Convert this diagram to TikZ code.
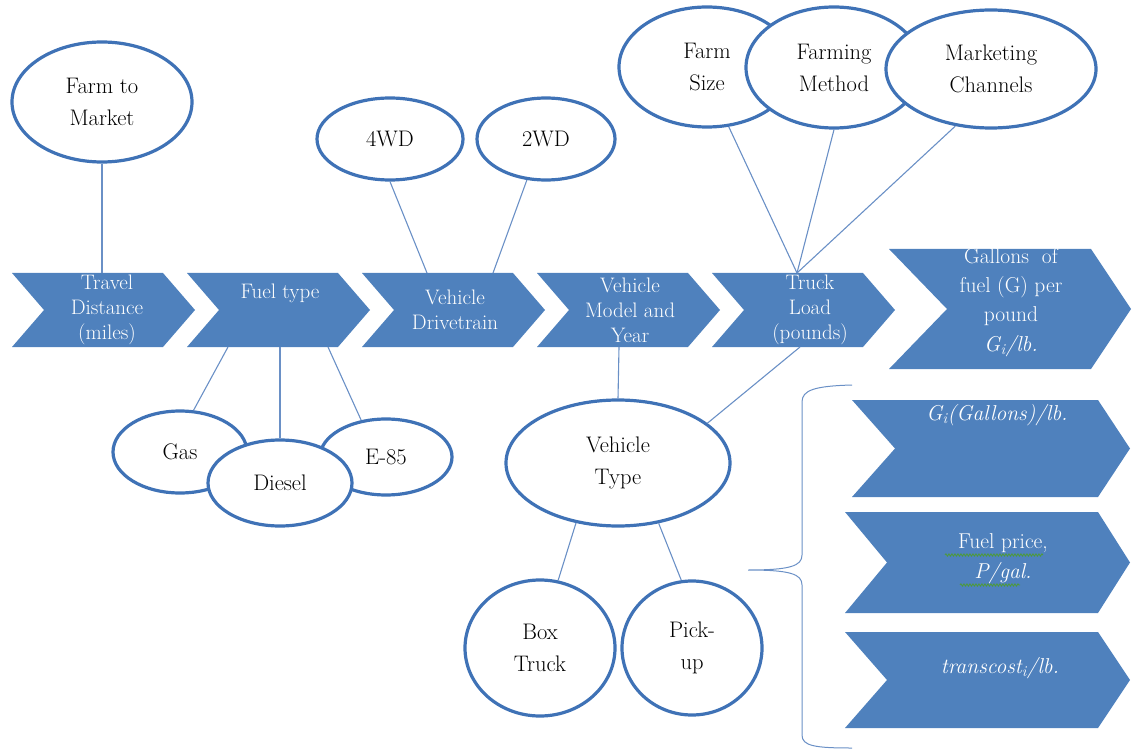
\documentclass[tikz,border=0pt]{standalone}
\usepackage{fontspec}
\setmainfont{Latin Modern Roman}
\newfontfamily\lmr{Latin Modern Roman}
\usetikzlibrary{shapes.geometric,decorations.pathmorphing}
\definecolor{chevblue}{HTML}{4F81BD}
\definecolor{ellblue}{HTML}{3F72B6}
\definecolor{connblue}{HTML}{6A90C6}
\definecolor{spellgreen}{HTML}{4E9A3A}
% #1 left x, #2 top y, #3 bottom y, #4 notch x, #5 top-right x, #6 tip x
\newcommand{\chevshape}[6]{%
  \fill[chevblue] (#1,#2) -- (#5,#2) -- (#6,{(#2+#3)/2}) -- (#5,#3) -- (#1,#3) -- (#4,{(#2+#3)/2}) -- cycle;}
\begin{document}
\begin{tikzpicture}[x=1pt,y=-1pt,
  oval/.style={ellipse, draw=ellblue, line width=3.2pt, fill=white, inner sep=0pt, align=center,
    font=\lmr\fontsize{22.5}{32}\selectfont},
  chevtext/.style={text=white, align=center, inner sep=0pt, font=\lmr\fontsize{21}{25}\selectfont},
  bigtext/.style={text=white, align=center, inner sep=0pt, font=\lmr\fontsize{21.5}{29}\selectfont},
  conn/.style={draw=connblue, line width=1.1pt},
  spell/.style={draw=spellgreen, line width=0.8pt, decorate, decoration={snake, amplitude=1.2pt, segment length=3pt}}]
\useasboundingbox (0,0) rectangle (1132,751);
\clip (0,0) rectangle (1132,751);

% main chevrons
\chevshape{12}{273}{347}{44}{163}{195}
\chevshape{187}{273}{347}{219}{338}{370}
\chevshape{362}{273}{347}{394}{513}{545}
\chevshape{537}{273}{347}{569}{688}{720}
\chevshape{712}{273}{347}{744}{863}{895}
\chevshape{889}{249}{369}{947}{1091}{1131}
% right chevrons
\chevshape{852}{400}{497}{895}{1098}{1130}
\chevshape{845}{512}{613}{887}{1098}{1130}
\chevshape{845}{632}{728}{887}{1098}{1130}

% chevron texts
\node[chevtext] (t1) at (107,310) {Travel\\Distance\\(miles)};
\node[chevtext] (t2) at (280,293) {Fuel type};
\node[chevtext] (t3) at (455,310) {Vehicle\\Drivetrain};
\node[chevtext] (t4) at (630,310) {Vehicle\\Model and\\Year};
\node[chevtext] (t5) at (810,310) {Truck\\Load\\(pounds)};
\node[bigtext] (t6) at (1011,287) {Gallons \ of\\fuel (G) per\\pound};
\node[bigtext] (t6m) at (1011,346) {\itshape G\textsubscript{i}/lb.};
\node[bigtext] (ra) at (997,415) {\itshape G\textsubscript{i}(Gallons)/lb.};
\node[bigtext] (rb1) at (1003,543) {Fuel price,};
\node[bigtext] (rb2) at (1003,573) {\itshape P/gal.};
\node[bigtext] (rc) at (1000,668) {\itshape transcost\textsubscript{i}/lb.};
\draw[spell] (945,555) -- (1043,555);
\draw[spell] (960,585) -- (1020,585);

% anchor coordinates on chevrons
\coordinate (c1top) at (102,273);
\coordinate (c2a) at (228,347);
\coordinate (c2b) at (280,347);
\coordinate (c2c) at (328,347);
\coordinate (c3a) at (427,273);
\coordinate (c3b) at (493,273);
\coordinate (c4bot) at (619,347);
\coordinate (c5top) at (797,273);
\coordinate (c5bot) at (800,347);

% ovals
\node[oval, minimum width=180pt, minimum height=120pt] (fm) at (102,102) {Farm to\\Market};
\node[oval, minimum width=146pt, minimum height=82pt] (w4) at (390,139) {4WD};
\node[oval, minimum width=138pt, minimum height=82pt] (w2) at (546,139) {2WD};
\node[oval, minimum width=176pt, minimum height=120pt] (fs) at (707,67) {Farm\\Size};
\node[oval, minimum width=176pt, minimum height=121pt] (fme) at (834,67.5) {Farming\\Method};
\node[oval, minimum width=210pt, minimum height=118pt] (mc) at (991,69) {Marketing\\Channels};
\node[oval, minimum width=134pt, minimum height=82pt] (gas) at (180,452) {Gas};
\node[oval, minimum width=132pt, minimum height=76pt] (e85) at (386,457) {E-85};
\node[oval, minimum width=144pt, minimum height=86pt] (dsl) at (280,483) {Diesel};
\node[oval, minimum width=224pt, minimum height=126pt] (vt) at (618,463) {Vehicle\\Type};
\node[oval, minimum width=150pt, minimum height=136pt] (bt) at (540,648) {Box\\Truck};
\node[oval, minimum width=140pt, minimum height=134pt] (pu) at (692,648) {Pick-\\up};

% connectors
\draw[conn] (fm) -- (c1top);
\draw[conn] (w4.south) -- (c3a);
\draw[conn] (w2.245) -- (c3b);
\draw[conn] (fs.290) -- (c5top);
\draw[conn] (fme.south) -- (c5top);
\draw[conn] (mc.238) -- (c5top);
\draw[conn] (gas.72) -- (c2a);
\draw[conn] (dsl.north) -- (c2b);
\draw[conn] (e85.124) -- (c2c);
\draw[conn] (vt.north) -- (c4bot);
\draw[conn] (vt.24) -- (c5bot);
\draw[conn] (vt.235) -- (bt.75);
\draw[conn] (vt.304) -- (pu.99);

% brace
\draw[conn, line width=1pt] (852,385) .. controls (815,386) and (802,390) .. (802,402) -- (802,555)
  .. controls (802,566) and (790,570) .. (748,570)
  .. controls (790,570) and (802,574) .. (802,585) -- (802,735)
  .. controls (802,746) and (815,748) .. (852,748);
\end{tikzpicture}
\end{document}
